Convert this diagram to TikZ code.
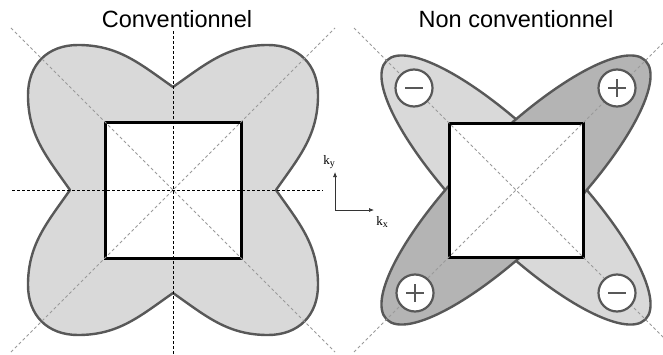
\documentclass[tikz,border=0pt]{standalone}
\usepackage{fontspec}
\setmainfont{Liberation Serif}
\newfontfamily\titlefont{Liberation Sans}
\usetikzlibrary{arrows.meta,calc}
\definecolor{lightfill}{HTML}{D9D9D9}
\definecolor{darkfill}{HTML}{B4B4B4}
\definecolor{outl}{HTML}{585858}
\definecolor{diag}{HTML}{9A9A9A}
\newcommand{\ksub}[1]{k\raisebox{-2.5pt}{\fontsize{10}{10}\selectfont #1}}
\tikzset{
  lobeline/.style={draw=outl, line width=2.4pt, line join=round},
  sqbox/.style={draw=black, fill=white, line width=3pt},
  axisdash/.style={draw=black, line width=0.7pt, dash pattern=on 3pt off 2pt},
  diagdash/.style={draw=diag, line width=0.8pt, dash pattern=on 3pt off 2.5pt},
  signcirc/.style={circle, draw=outl, fill=white, line width=2.2pt, minimum size=37pt, inner sep=0pt},
  signbar/.style={draw=outl, line width=2.4pt},
  titletext/.style={font=\titlefont\fontsize{23.5}{26}\selectfont, anchor=base},
  klabel/.style={font=\fontsize{13}{14}\selectfont, inner sep=0pt},
  karrow/.style={draw=black!80, line width=0.7pt, -{Latex[length=5pt,width=4pt]}}
}
\begin{document}
\begin{tikzpicture}[x=1pt,y=1pt]
\clip (0,0) rectangle (663,354);
\fill[white] (0,0) rectangle (663,354);
% titles
\node[titletext] (t1) at (177,326) {Conventionnel};
\node[titletext] (t2) at (516,326) {Non conventionnel};
% ---------- left panel ----------
\coordinate (L) at (173,164);
\begin{scope}[shift={(L)}]
\filldraw[lobeline, fill=lightfill]
  (0,103) to[out=35,in=180] (95,145) to[out=0,in=90,looseness=1.1] (145,95) to[out=-90,in=55] (103,0)
  to[out=-55,in=90] (145,-95) to[out=-90,in=0,looseness=1.1] (95,-145) to[out=180,in=-35] (0,-103)
  to[out=-145,in=0] (-95,-145) to[out=180,in=-90,looseness=1.1] (-145,-95) to[out=90,in=-125] (-103,0)
  to[out=125,in=-90] (-145,95) to[out=90,in=180,looseness=1.1] (-95,145) to[out=0,in=145] (0,103)
  -- cycle;
\draw[sqbox] (-68,-68) rectangle (68,68);
\end{scope}
\draw[diagdash] ($(L)+(-162,162)$) -- ($(L)+(162,-162)$);
\draw[diagdash] ($(L)+(-162,-162)$) -- ($(L)+(162,162)$);
\draw[axisdash] (173,0) -- (173,323);
\draw[axisdash] (12,164) -- (323,164);
% ---------- axes ----------
\coordinate (o) at (335,144);
\coordinate (ky) at (335,182);
\coordinate (kx) at (374,144);
\draw[karrow] (o) -- (ky);
\draw[karrow] (o) -- (kx);
\node[klabel] (kyl) at (329,192) {\ksub{y}};
\node[klabel] (kxl) at (382,132) {\ksub{x}};
% ---------- right panel ----------
\coordinate (R) at (516,164);
\filldraw[lobeline, fill=lightfill, rotate around={-45:(R)}] (R) ellipse [x radius=183, y radius=52];
\filldraw[lobeline, fill=darkfill, rotate around={45:(R)}] (R) ellipse [x radius=183, y radius=52];
\draw[sqbox] ($(R)+(-67,-67)$) rectangle ($(R)+(67,67)$);
\draw[diagdash] ($(R)+(-162,162)$) -- ($(R)+(162,-162)$);
\draw[diagdash] ($(R)+(-162,-162)$) -- ($(R)+(162,162)$);
\node[signcirc] (mtl) at ($(R)+(-102,102)$) {};
\node[signcirc] (ptr) at ($(R)+(101,102)$) {};
\node[signcirc] (pbl) at ($(R)+(-101,-103)$) {};
\node[signcirc] (mbr) at ($(R)+(101,-103)$) {};
\draw[signbar] ($(mtl)+(-9,0)$) -- ($(mtl)+(9,0)$);
\draw[signbar] ($(mbr)+(-9,0)$) -- ($(mbr)+(9,0)$);
\draw[signbar] ($(ptr)+(-9,0)$) -- ($(ptr)+(9,0)$);
\draw[signbar] ($(ptr)+(0,-9)$) -- ($(ptr)+(0,9)$);
\draw[signbar] ($(pbl)+(-9,0)$) -- ($(pbl)+(9,0)$);
\draw[signbar] ($(pbl)+(0,-9)$) -- ($(pbl)+(0,9)$);
\end{tikzpicture}
\end{document}
